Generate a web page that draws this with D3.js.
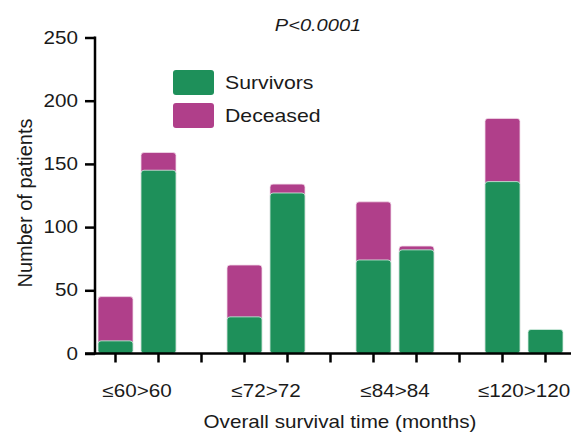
<!DOCTYPE html>
<html>
<head>
<meta charset="utf-8">
<script src="https://cdn.jsdelivr.net/npm/d3@7"></script>
<style>
  body { margin: 0; background: #fff; }
  svg text { font-family: "Liberation Sans", Arial, Helvetica, sans-serif; fill: #1a1a1a; }
</style>
</head>
<body>
<div id="stage"></div>
<script>
// slot labels (a gap slot sits between each group)
var slots = ["≤60", ">60", "g1", "≤72", ">72", "g2", "≤84", ">84", "g3", "≤120", ">120"];
var categories = ["≤60", ">60", "≤72", ">72", "≤84", ">84", "≤120", ">120"];
var survivors = [10, 145, 29, 127, 74, 82, 136, 19];
var deceased = [35, 14, 41, 7, 46, 3, 50, 0];
var group_labels = ["≤60>60", "≤72>72", "≤84>84", "≤120>120"];
var y_ticks = [0, 50, 100, 150, 200, 250];

var stage_width = 584;
var stage_height = 434;
var green = "#1e905a";
var purple = "#b03f8a";
var sx = 1.18; // text in the picture is a bit wide

build_scene();

function place(sel, x, y) {
  sel.attr("transform", "translate(" + x + "," + y + ") scale(" + sx + ",1)");
}

function build_scene() {
  var svg = d3.select("#stage")
    .append("svg")
    .attr("width", stage_width)
    .attr("height", stage_height);

  var x = d3.scaleBand().domain(slots).range([94, 567]).paddingInner(0).paddingOuter(0);
  var y = d3.scaleLinear().domain([0, 250]).range([353.5, 37.5]);
  var bar_w = 35;

  var data = categories.map(function(c, i) {
    return { cat: c, surv: survivors[i], dec: deceased[i] };
  });

  // deceased on top (draw full stack first, survivors over it)
  svg.selectAll("rect.dec")
    .data(data.filter(function(d) { return d.dec > 0; }))
    .enter()
    .append("rect")
    .attr("class", "dec")
    .attr("x", function(d) { return x(d.cat) + (x.bandwidth() - bar_w) / 2; })
    .attr("width", bar_w)
    .attr("y", function(d) { return y(d.surv + d.dec); })
    .attr("height", function(d) { return y(0) - y(d.surv + d.dec); })
    .attr("rx", 3)
    .attr("fill", purple)
    .attr("stroke", "#f3dcea")
    .attr("stroke-width", 0.8);

  svg.selectAll("rect.surv")
    .data(data)
    .enter()
    .append("rect")
    .attr("class", "surv")
    .attr("x", function(d) { return x(d.cat) + (x.bandwidth() - bar_w) / 2; })
    .attr("width", bar_w)
    .attr("y", function(d) { return y(d.surv); })
    .attr("height", function(d) { return y(0) - y(d.surv); })
    .attr("rx", 3)
    .attr("fill", green)
    .attr("stroke", "#d6efe2")
    .attr("stroke-width", 0.8);

  // y axis
  var yAxis = svg.append("g")
    .attr("transform", "translate(95,0)")
    .call(d3.axisLeft(y).tickValues(y_ticks).tickSize(10).tickPadding(5));
  yAxis.select(".domain").attr("stroke-width", 2.5).attr("d", "M0,36.5V354.5");
  yAxis.selectAll(".tick line").attr("stroke-width", 2.5);
  yAxis.selectAll(".tick text")
    .style("font-size", "17.5px")
    .attr("fill", "#1a1a1a")
    .attr("x", -17 / sx)
    .attr("transform", "scale(" + sx + ",1)");

  // x axis
  var xAxis = svg.append("g")
    .attr("transform", "translate(0," + y(0) + ")")
    .call(d3.axisBottom(x).tickSize(9).tickFormat(""));
  xAxis.select(".domain").attr("stroke-width", 2.5).attr("d", "M85,0H571");
  xAxis.selectAll(".tick line").attr("stroke-width", 2.5);

  // group labels under each pair
  svg.selectAll("text.glabel")
    .data(group_labels)
    .enter()
    .append("text")
    .attr("class", "glabel")
    .attr("text-anchor", "middle")
    .style("font-size", "17.5px")
    .attr("transform", function(d, i) {
      return "translate(" + (x(slots[i * 3]) + x.bandwidth()) + ",397) scale(" + sx + ",1)";
    })
    .text(function(d) { return d; });

  // axis titles
  svg.append("text")
    .attr("text-anchor", "middle")
    .style("font-size", "17.5px")
    .call(place, 340, 428)
    .text("Overall survival time (months)");

  svg.append("text")
    .attr("transform", "translate(32,203) rotate(-90)")
    .attr("text-anchor", "middle")
    .style("font-size", "20px")
    .text("Number of patients");

  svg.append("text")
    .attr("text-anchor", "middle")
    .style("font-size", "17px")
    .style("font-style", "italic")
    .call(place, 318, 31)
    .text("P<0.0001");

  // legend
  var legend = [["Survivors", green], ["Deceased", purple]];
  var lg = svg.selectAll("g.legend")
    .data(legend)
    .enter()
    .append("g")
    .attr("class", "legend")
    .attr("transform", function(d, i) { return "translate(173," + (70 + i * 33) + ")"; });
  lg.append("rect")
    .attr("width", 41)
    .attr("height", 25)
    .attr("rx", 3)
    .attr("fill", function(d) { return d[1]; });
  lg.append("text")
    .style("font-size", "18px")
    .call(place, 52, 19)
    .text(function(d) { return d[0]; });
}
</script>
</body>
</html>
